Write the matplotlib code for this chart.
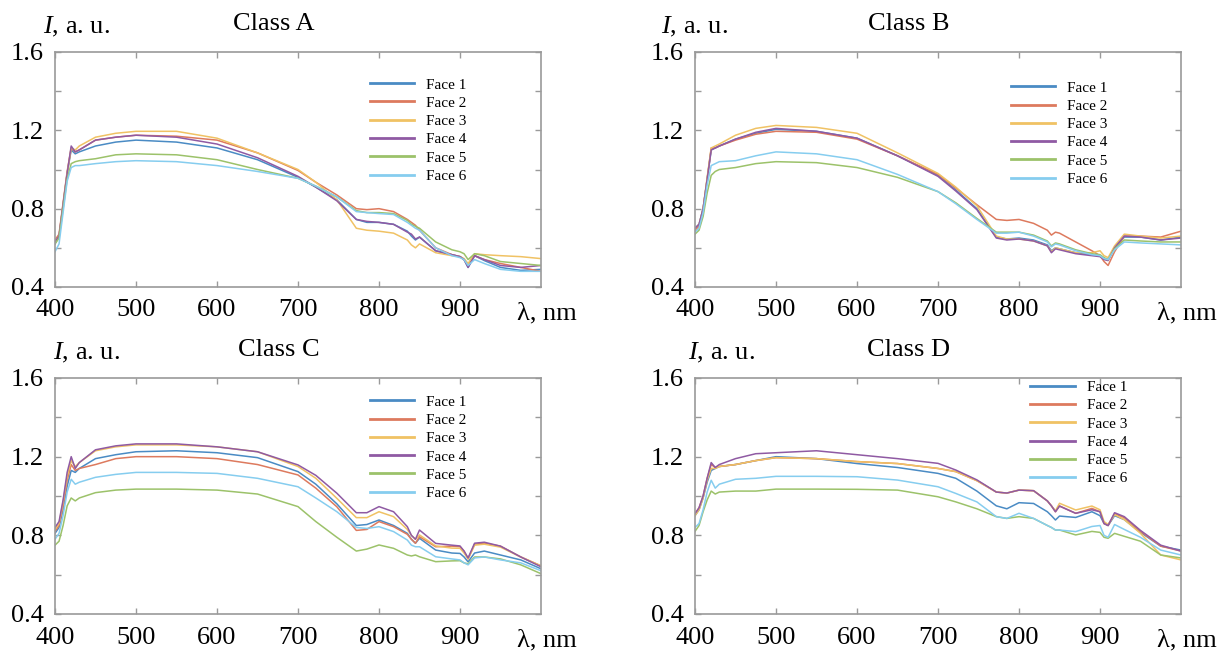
import matplotlib
matplotlib.use("Agg")
import matplotlib.pyplot as plt
from matplotlib.ticker import MultipleLocator, FuncFormatter

plt.rcParams['font.family'] = ['Liberation Serif', 'DejaVu Serif']
plt.rcParams['mathtext.fontset'] = 'custom'
plt.rcParams['mathtext.rm'] = 'Liberation Serif'
plt.rcParams['mathtext.it'] = 'Liberation Serif:italic'

# wavelength grid (nm) shared by all spectra
wl = [400, 405, 410, 415, 420, 425, 430, 450, 475, 500, 550, 600, 650, 700, 722, 748, 772, 785,
      800, 818, 835, 840, 845, 850, 870, 890, 900, 905, 910, 918, 930, 950, 975, 1000]

# Class A
a_f1 = [0.62, 0.66, 0.82, 0.98, 1.10, 1.08, 1.09, 1.12, 1.14, 1.15, 1.14, 1.11, 1.05, 0.96, 0.91, 0.845, 0.745, 0.73,
        0.73, 0.72, 0.685, 0.66, 0.64, 0.655, 0.585, 0.565, 0.555, 0.54, 0.50, 0.56, 0.535, 0.50, 0.485, 0.49]
a_f2 = [0.64, 0.67, 0.83, 0.99, 1.11, 1.09, 1.10, 1.15, 1.165, 1.175, 1.17, 1.15, 1.085, 0.995, 0.935, 0.87, 0.80, 0.795,
        0.80, 0.785, 0.745, 0.73, 0.715, 0.69, 0.60, 0.565, 0.555, 0.54, 0.51, 0.56, 0.54, 0.52, 0.50, 0.48]
a_f3 = [0.63, 0.66, 0.82, 0.98, 1.11, 1.10, 1.12, 1.165, 1.185, 1.195, 1.195, 1.16, 1.085, 1.0, 0.935, 0.845, 0.70, 0.69,
        0.685, 0.675, 0.64, 0.615, 0.60, 0.62, 0.575, 0.56, 0.555, 0.545, 0.52, 0.57, 0.565, 0.56, 0.555, 0.545]
a_f4 = [0.63, 0.66, 0.82, 0.98, 1.12, 1.09, 1.10, 1.15, 1.165, 1.175, 1.165, 1.13, 1.06, 0.965, 0.91, 0.84, 0.745, 0.735,
        0.73, 0.72, 0.68, 0.67, 0.645, 0.655, 0.585, 0.565, 0.555, 0.54, 0.50, 0.56, 0.54, 0.51, 0.50, 0.51]
a_f5 = [0.62, 0.65, 0.80, 0.95, 1.03, 1.04, 1.045, 1.055, 1.075, 1.08, 1.075, 1.05, 1.0, 0.955, 0.915, 0.86, 0.79, 0.78,
        0.78, 0.775, 0.74, 0.72, 0.71, 0.70, 0.63, 0.59, 0.58, 0.57, 0.54, 0.57, 0.56, 0.53, 0.52, 0.51]
a_f6 = [0.58, 0.62, 0.78, 0.94, 1.01, 1.02, 1.02, 1.03, 1.04, 1.045, 1.04, 1.02, 0.99, 0.955, 0.915, 0.86, 0.785, 0.78,
        0.775, 0.77, 0.73, 0.715, 0.70, 0.69, 0.60, 0.56, 0.55, 0.54, 0.51, 0.54, 0.52, 0.49, 0.48, 0.48]

# Class B
b_f1 = [0.70, 0.72, 0.80, 0.95, 1.10, 1.11, 1.12, 1.155, 1.185, 1.205, 1.195, 1.16, 1.07, 0.97, 0.895, 0.80, 0.655, 0.645,
        0.65, 0.64, 0.615, 0.585, 0.60, 0.595, 0.575, 0.565, 0.56, 0.545, 0.54, 0.60, 0.655, 0.655, 0.64, 0.655]
b_f2 = [0.69, 0.71, 0.80, 0.95, 1.11, 1.11, 1.12, 1.15, 1.18, 1.195, 1.19, 1.155, 1.07, 0.975, 0.905, 0.82, 0.745, 0.74,
        0.745, 0.725, 0.69, 0.665, 0.68, 0.675, 0.63, 0.585, 0.56, 0.53, 0.51, 0.58, 0.66, 0.66, 0.655, 0.685]
b_f3 = [0.70, 0.72, 0.80, 0.96, 1.11, 1.12, 1.13, 1.175, 1.21, 1.225, 1.215, 1.185, 1.085, 0.98, 0.91, 0.815, 0.66, 0.645,
        0.645, 0.635, 0.61, 0.58, 0.60, 0.595, 0.575, 0.575, 0.585, 0.56, 0.55, 0.61, 0.67, 0.66, 0.65, 0.66]
b_f4 = [0.70, 0.72, 0.80, 0.95, 1.10, 1.11, 1.12, 1.155, 1.19, 1.21, 1.195, 1.16, 1.07, 0.965, 0.89, 0.795, 0.65, 0.64,
        0.645, 0.635, 0.61, 0.575, 0.595, 0.59, 0.57, 0.56, 0.555, 0.54, 0.535, 0.60, 0.66, 0.655, 0.64, 0.65]
b_f5 = [0.67, 0.69, 0.76, 0.88, 0.97, 0.99, 1.0, 1.01, 1.03, 1.04, 1.035, 1.01, 0.96, 0.887, 0.83, 0.75, 0.68, 0.68,
        0.68, 0.665, 0.635, 0.61, 0.625, 0.62, 0.59, 0.57, 0.565, 0.55, 0.54, 0.595, 0.64, 0.635, 0.63, 0.63]
b_f6 = [0.68, 0.70, 0.78, 0.92, 1.02, 1.03, 1.04, 1.045, 1.07, 1.09, 1.08, 1.05, 0.975, 0.887, 0.825, 0.745, 0.675, 0.675,
        0.68, 0.66, 0.63, 0.605, 0.62, 0.615, 0.585, 0.565, 0.56, 0.545, 0.54, 0.59, 0.63, 0.625, 0.62, 0.615]

# Class C
c_f1 = [0.81, 0.84, 0.93, 1.05, 1.13, 1.12, 1.14, 1.19, 1.21, 1.225, 1.23, 1.22, 1.195, 1.124, 1.06, 0.96, 0.85, 0.855,
        0.878, 0.85, 0.81, 0.78, 0.76, 0.785, 0.725, 0.71, 0.708, 0.69, 0.665, 0.71, 0.72, 0.70, 0.675, 0.63]
c_f2 = [0.82, 0.85, 0.95, 1.08, 1.16, 1.13, 1.14, 1.16, 1.19, 1.20, 1.20, 1.19, 1.16, 1.107, 1.04, 0.945, 0.825, 0.83,
        0.87, 0.844, 0.805, 0.78, 0.76, 0.793, 0.742, 0.745, 0.742, 0.72, 0.68, 0.755, 0.76, 0.745, 0.69, 0.645]
c_f3 = [0.83, 0.86, 0.97, 1.10, 1.18, 1.15, 1.17, 1.23, 1.25, 1.26, 1.26, 1.25, 1.225, 1.15, 1.09, 0.988, 0.89, 0.89,
        0.92, 0.895, 0.83, 0.80, 0.78, 0.802, 0.746, 0.735, 0.734, 0.71, 0.68, 0.75, 0.755, 0.74, 0.69, 0.645]
c_f4 = [0.84, 0.87, 0.98, 1.12, 1.20, 1.14, 1.17, 1.235, 1.255, 1.265, 1.265, 1.25, 1.225, 1.158, 1.105, 1.014, 0.915, 0.915,
        0.946, 0.92, 0.844, 0.80, 0.78, 0.827, 0.759, 0.75, 0.746, 0.72, 0.685, 0.76, 0.765, 0.745, 0.69, 0.64]
c_f5 = [0.75, 0.77, 0.85, 0.95, 0.99, 0.975, 0.99, 1.017, 1.03, 1.035, 1.035, 1.03, 1.01, 0.946, 0.87, 0.79, 0.72, 0.73,
        0.751, 0.734, 0.70, 0.695, 0.70, 0.691, 0.666, 0.67, 0.671, 0.66, 0.655, 0.69, 0.69, 0.68, 0.65, 0.605]
c_f6 = [0.78, 0.81, 0.90, 1.02, 1.085, 1.06, 1.07, 1.095, 1.11, 1.12, 1.12, 1.115, 1.09, 1.047, 0.99, 0.92, 0.84, 0.835,
        0.844, 0.819, 0.776, 0.75, 0.742, 0.742, 0.691, 0.68, 0.675, 0.66, 0.65, 0.685, 0.69, 0.675, 0.66, 0.62]

# Class D
d_f1 = [0.90, 0.93, 0.99, 1.07, 1.13, 1.14, 1.15, 1.16, 1.18, 1.20, 1.19, 1.165, 1.145, 1.115, 1.09, 1.025, 0.95, 0.935,
        0.966, 0.962, 0.92, 0.90, 0.878, 0.898, 0.891, 0.92, 0.90, 0.86, 0.85, 0.90, 0.88, 0.815, 0.745, 0.725]
d_f2 = [0.91, 0.94, 1.00, 1.09, 1.16, 1.145, 1.15, 1.16, 1.18, 1.195, 1.19, 1.175, 1.165, 1.14, 1.124, 1.078, 1.02, 1.015,
        1.03, 1.027, 0.975, 0.95, 0.92, 0.949, 0.912, 0.937, 0.92, 0.86, 0.85, 0.91, 0.89, 0.82, 0.745, 0.72]
d_f3 = [0.90, 0.93, 0.99, 1.08, 1.14, 1.14, 1.15, 1.16, 1.18, 1.195, 1.19, 1.175, 1.165, 1.14, 1.124, 1.078, 1.02, 1.015,
        1.03, 1.027, 0.975, 0.95, 0.925, 0.963, 0.929, 0.949, 0.93, 0.87, 0.855, 0.905, 0.88, 0.81, 0.70, 0.675]
d_f4 = [0.91, 0.94, 1.00, 1.09, 1.17, 1.145, 1.16, 1.19, 1.215, 1.22, 1.23, 1.21, 1.19, 1.166, 1.132, 1.082, 1.02, 1.015,
        1.03, 1.027, 0.975, 0.95, 0.92, 0.949, 0.912, 0.93, 0.92, 0.86, 0.85, 0.915, 0.895, 0.825, 0.75, 0.72]
d_f5 = [0.82, 0.85, 0.92, 0.98, 1.025, 1.01, 1.02, 1.025, 1.025, 1.035, 1.035, 1.034, 1.03, 0.996, 0.97, 0.935, 0.895, 0.886,
        0.895, 0.886, 0.85, 0.84, 0.827, 0.827, 0.802, 0.82, 0.815, 0.79, 0.785, 0.81, 0.795, 0.77, 0.70, 0.685]
d_f6 = [0.84, 0.86, 0.93, 1.02, 1.08, 1.04, 1.06, 1.085, 1.09, 1.10, 1.10, 1.098, 1.081, 1.047, 1.013, 0.97, 0.895, 0.886,
        0.912, 0.886, 0.85, 0.84, 0.827, 0.827, 0.819, 0.845, 0.85, 0.80, 0.79, 0.855, 0.83, 0.79, 0.725, 0.70]

labels = ['Face 1', 'Face 2', 'Face 3', 'Face 4', 'Face 5', 'Face 6']
colors = ['#4a8bc4', '#dd7a5e', '#f0c264', '#8f5aa3', '#9cc26a', '#86cdef']
titles = ['Class A', 'Class B', 'Class C', 'Class D']
spectra = [[a_f1, a_f2, a_f3, a_f4, a_f5, a_f6],
           [b_f1, b_f2, b_f3, b_f4, b_f5, b_f6],
           [c_f1, c_f2, c_f3, c_f4, c_f5, c_f6],
           [d_f1, d_f2, d_f3, d_f4, d_f5, d_f6]]

W, H = 1231, 657
# axes boxes in pixels: left, top, right, bottom
boxes = [(55, 52, 541, 287), (695, 52, 1181, 287), (55, 378, 541, 614), (695, 378, 1181, 614)]
# legend anchor (axes fraction), title x, ylabel x
leg_pos = [(0.648, 0.89), (0.65, 0.877), (0.648, 0.928), (0.69, 0.99)]
title_x = [0.45, 0.44, 0.46, 0.44]
ylab_x = [0.045, 0.0, 0.065, 0.055]

fig = plt.figure(figsize=(W / 100, H / 100), dpi=100)
grey = '#9a9a9a'

for i in range(4):
    l, t, r, b = boxes[i]
    ax = fig.add_axes([l / W, 1 - b / H, (r - l) / W, (b - t) / H])
    for j in range(6):
        ax.plot(wl, spectra[i][j], color=colors[j], lw=1.1, label=labels[j])
    ax.set_xlim(400, 1000)
    ax.set_ylim(0.4, 1.6)
    ax.set_xticks([400, 500, 600, 700, 800, 900])
    ax.yaxis.set_major_locator(MultipleLocator(0.2))
    ax.yaxis.set_major_formatter(FuncFormatter(
        lambda v, p: ('%.1f' % v) if round(v * 10) % 4 == 0 else ''))
    ax.tick_params(direction='in', length=4, width=1, colors=grey, labelcolor='black',
                   labelsize=19, top=True, right=True)
    ax.tick_params(axis='x', pad=9)
    ax.tick_params(axis='y', pad=8)
    for s in ax.spines.values():
        s.set_color(grey)
        s.set_linewidth(1.2)
    h = b - t
    ax.text(1.0 + 6 / 486, -26 / h, 'λ, nm', transform=ax.transAxes, ha='center', va='center', fontsize=19)
    ax.text(ylab_x[i], 1.105, '$I$, a. u.', transform=ax.transAxes, ha='center', va='center', fontsize=19)
    ax.text(title_x[i], 1.12, titles[i], transform=ax.transAxes, ha='center', va='center', fontsize=19)
    leg = ax.legend(loc='upper left', bbox_to_anchor=leg_pos[i], frameon=False, fontsize=11,
                    handlelength=2.9, handletextpad=0.8, labelspacing=0.3, borderaxespad=0, borderpad=0)
    for ln in leg.get_lines():
        ln.set_linewidth(2)

fig.savefig('out.png', dpi=100)
